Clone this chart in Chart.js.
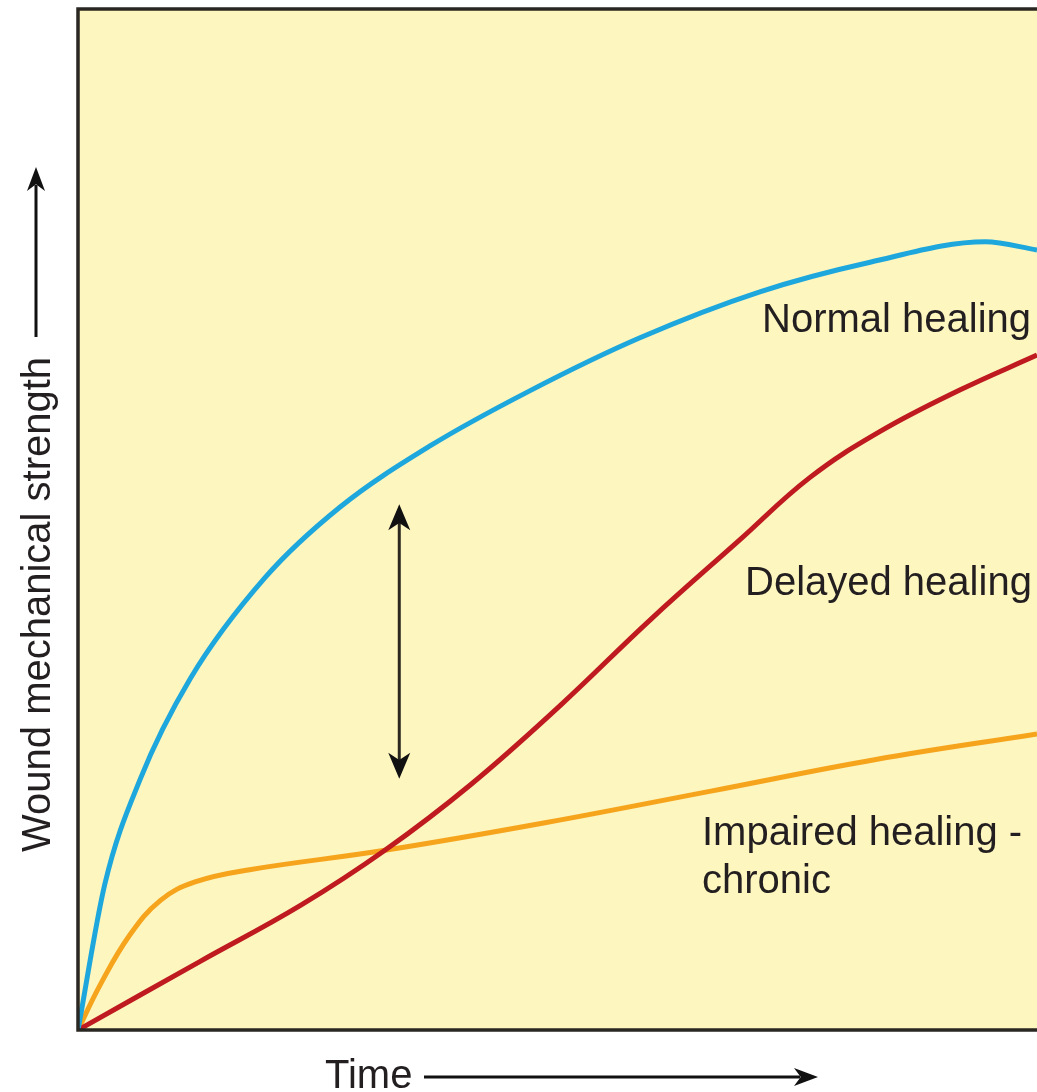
<!DOCTYPE html>
<html>
<head>
<meta charset="utf-8">
<title>Wound healing</title>
<script src="https://cdn.jsdelivr.net/npm/chart.js@4.4.1/dist/chart.umd.min.js"></script>
<style>
  html, body { margin:0; padding:0; background:#fff; }
  #wrap { position:relative; width:1037px; height:1092px; }
</style>
</head>
<body>
<div id="wrap"><canvas id="healingChart"></canvas></div>
<script>
// time (0-100) and strength (0-100)
const normalX   = [0, 2.8, 6.5, 11.7, 19.5, 27.3, 36.7, 47.1, 58.6, 71.1, 82.6, 94.6, 100];
const normalY   = [0, 14.3, 24.6, 34.4, 44.3, 51.2, 57.2, 62.6, 67.8, 72.3, 75.2, 77.2, 76.4];
const delayedX  = [0, 12.7, 23.2, 32.0, 40.9, 50.3, 59.7, 69.0, 76.3, 83.6, 92.0, 100];
const delayedY  = [0, 6.7, 12.2, 17.6, 24.0, 31.8, 40.2, 48.0, 54.1, 58.6, 62.7, 66.1];
const impairedX = [0, 2.3, 5.4, 8.6, 12.2, 17.9, 32.0, 48.7, 66.0, 83.2, 100];
const impairedY = [0, 4.4, 9.3, 12.7, 14.5, 15.7, 17.6, 20.3, 23.4, 26.5, 29.0];

const curveLabels = ['Normal healing', 'Delayed healing', 'Impaired healing - chronic'];
const curveColors = ['#1ea7dd', '#bf1a20', '#f5a41c'];

// gap marker between normal and delayed curves (x, low, high)
const gapX = 33.5, gapLow = 24.6, gapHigh = 51.5;

const FONT = '40px "Liberation Sans", Arial, sans-serif';
const INK = '#231f20';

function toPoints(xs, ys) {
  return xs.map((x, i) => ({ x: x, y: ys[i] }));
}

function arrowHead(ctx, tipX, tipY, dirX, dirY, len, half) {
  // barbed head pointing along (dirX, dirY)
  const px = -dirY, py = dirX;
  const bx = tipX - dirX * len, by = tipY - dirY * len;
  const nx = tipX - dirX * len * 0.72, ny = tipY - dirY * len * 0.72;
  ctx.beginPath();
  ctx.moveTo(tipX, tipY);
  ctx.lineTo(bx + px * half, by + py * half);
  ctx.lineTo(nx, ny);
  ctx.lineTo(bx - px * half, by - py * half);
  ctx.closePath();
  ctx.fill();
}

const panelBg = {
  id: 'panelBg',
  beforeDraw(chart) {
    const { ctx, chartArea: a } = chart;
    ctx.save();
    ctx.fillStyle = '#fdf6bf';
    ctx.fillRect(a.left, a.top, a.right - a.left, a.bottom - a.top);
    ctx.restore();
  }
};

const annotations = {
  id: 'annotations',
  afterDatasetsDraw(chart) {
    const { ctx, chartArea: a, scales: { x, y } } = chart;
    ctx.save();

    // frame: left, top and bottom edges
    ctx.strokeStyle = '#2a2722';
    ctx.lineWidth = 3.5;
    ctx.beginPath();
    ctx.moveTo(a.right + 2, a.top);
    ctx.lineTo(a.left, a.top);
    ctx.lineTo(a.left, a.bottom);
    ctx.lineTo(a.right + 2, a.bottom);
    ctx.stroke();

    // double-headed arrow
    const gx = x.getPixelForValue(gapX);
    const gTop = y.getPixelForValue(gapHigh);
    const gBot = y.getPixelForValue(gapLow);
    ctx.strokeStyle = '#2b2820';
    ctx.fillStyle = '#111';
    ctx.lineWidth = 3;
    ctx.beginPath();
    ctx.moveTo(gx, gTop + 15);
    ctx.lineTo(gx, gBot - 15);
    ctx.stroke();
    arrowHead(ctx, gx, gTop, 0, -1, 26, 11);
    arrowHead(ctx, gx, gBot, 0, 1, 26, 11);

    // curve labels
    ctx.fillStyle = INK;
    ctx.font = FONT;
    ctx.textBaseline = 'alphabetic';
    ctx.textAlign = 'left';
    ctx.fillText(curveLabels[0], 762, 332);
    ctx.fillText(curveLabels[1], 745, 595);
    ctx.fillText('Impaired healing -', 702, 845);
    ctx.fillText('chronic', 702, 893);

    // x axis title with arrow
    ctx.fillText('Time', 325, 1088);
    ctx.fillStyle = '#111';
    ctx.strokeStyle = '#111';
    ctx.lineWidth = 3;
    ctx.beginPath();
    ctx.moveTo(424, 1077);
    ctx.lineTo(800, 1077);
    ctx.stroke();
    arrowHead(ctx, 818, 1077, 1, 0, 24, 9);

    // y axis title with arrow
    ctx.save();
    ctx.translate(50, 852);
    ctx.rotate(-Math.PI / 2);
    ctx.fillStyle = INK;
    ctx.fillText('Wound mechanical strength', 0, 0);
    ctx.restore();
    ctx.beginPath();
    ctx.moveTo(36, 337);
    ctx.lineTo(36, 185);
    ctx.stroke();
    arrowHead(ctx, 36, 167, 0, -1, 24, 9);

    ctx.restore();
  }
};

new Chart(document.getElementById('healingChart'), {
  type: 'line',
  data: {
    datasets: [
      { label: curveLabels[0], data: toPoints(normalX, normalY), borderColor: curveColors[0], cubicInterpolationMode: 'monotone' },
      { label: curveLabels[1], data: toPoints(delayedX, delayedY), borderColor: curveColors[1] },
      { label: curveLabels[2], data: toPoints(impairedX, impairedY), borderColor: curveColors[2] }
    ]
  },
  options: {
    responsive: true,
    maintainAspectRatio: false,
    animation: false,
    layout: { padding: { left: 78, top: 9, right: 0, bottom: 62 } },
    elements: {
      point: { radius: 0 },
      line: { borderWidth: 5, tension: 0.4, fill: false }
    },
    scales: {
      x: { type: 'linear', min: 0, max: 100, display: false },
      y: { type: 'linear', min: 0, max: 100, display: false }
    },
    plugins: { legend: { display: false }, tooltip: { enabled: false } }
  },
  plugins: [panelBg, annotations]
});
</script>
</body>
</html>
